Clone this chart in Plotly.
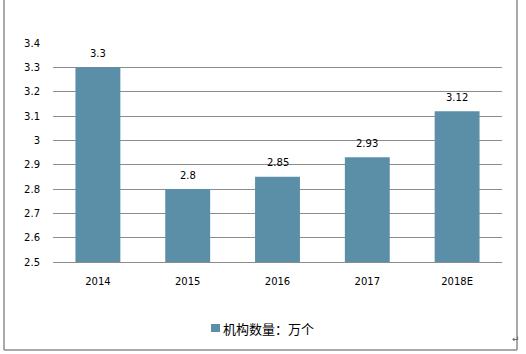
import plotly.graph_objects as go

categories = ["2014", "2015", "2016", "2017", "2018E"]
values = [3.3, 2.8, 2.85, 2.93, 3.12]
value_labels = ["3.3", "2.8", "2.85", "2.93", "3.12"]
series_name = "机构数量：万个"
y_ticks = [2.5, 2.6, 2.7, 2.8, 2.9, 3.0, 3.1, 3.2, 3.3, 3.4]
y_tick_labels = ["2.5", "2.6", "2.7", "2.8", "2.9", "3", "3.1", "3.2", "3.3", "3.4"]

W, H = 526, 354
L, R, T, B = 53, 24, 43, 92
pw = W - L - R
ph = H - T - B

def px_x(x):
    return (x - L) / pw

def px_y(y):
    return (H - B - y) / ph

bar_color = "#5b8fa8"
grid_color = "#8c8c8c"

fig = go.Figure()
fig.add_trace(go.Bar(
    x=categories, y=values, name=series_name,
    marker=dict(color=bar_color, line=dict(width=0)),
    showlegend=False,
))

annotations = []
for i, (v, t) in enumerate(zip(values, value_labels)):
    # x given as category index on the category axis
    annotations.append(dict(
        x=i, y=v, xref="x", yref="y", text=t, showarrow=False,
        yshift=14, font=dict(family="DejaVu Sans", size=10, color="#000000"),
    ))

# legend (manual, to match the tight swatch/text spacing)
annotations.append(dict(
    text=series_name, xref="paper", yref="paper", x=px_x(221), y=px_y(328),
    xanchor="left", yanchor="middle", showarrow=False,
    font=dict(family="Noto Sans CJK SC", size=13, color="#000000"),
))
annotations.append(dict(
    text="↵", xref="paper", yref="paper", x=px_x(522), y=px_y(346),
    showarrow=False, font=dict(size=9, color="#555555"),
))

border = dict(color="#8c8c8c", width=1.5)
shapes = [
    dict(type="line", xref="paper", yref="paper", x0=px_x(4), x1=px_x(4), y0=px_y(0), y1=px_y(350), line=border),
    dict(type="line", xref="paper", yref="paper", x0=px_x(517), x1=px_x(517), y0=px_y(0), y1=px_y(350), line=border),
    dict(type="line", xref="paper", yref="paper", x0=px_x(4), x1=px_x(517), y0=px_y(350), y1=px_y(350), line=border),
    dict(type="rect", xref="paper", yref="paper", x0=px_x(211), x1=px_x(220), y0=px_y(324), y1=px_y(332),
         fillcolor=bar_color, line=dict(width=0)),
]

fig.update_layout(
    width=W, height=H,
    margin=dict(l=L, r=R, t=T, b=B),
    paper_bgcolor="white", plot_bgcolor="white",
    bargap=0.5,
    shapes=shapes,
    annotations=annotations,
    showlegend=False,
    font=dict(family="DejaVu Sans", size=10, color="#000000"),
)
fig.update_xaxes(
    type="category", range=[-0.5, len(categories) - 0.5],
    showline=True, linecolor=grid_color, linewidth=1,
    ticks="", tickfont=dict(family="DejaVu Sans", size=10),
    showgrid=False, ticklabelstandoff=10,
)
fig.update_yaxes(
    range=[2.5, 3.4], tickvals=y_ticks, ticktext=y_tick_labels,
    showgrid=True, gridcolor=grid_color, gridwidth=1,
    zeroline=False, showline=False, ticks="", ticklabelstandoff=12,
    tickfont=dict(family="DejaVu Sans", size=10),
)

fig.write_html("out.html")
